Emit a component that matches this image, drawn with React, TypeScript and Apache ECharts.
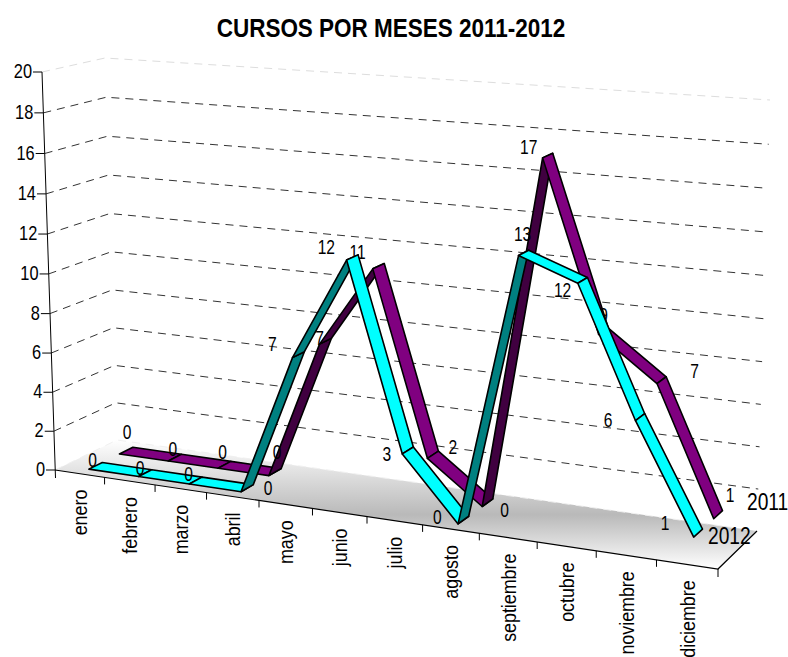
import React, { useEffect, useRef } from "react";
import * as echarts from "echarts";

const titleText = "CURSOS POR MESES 2011-2012";
const categories = ["enero","febrero","marzo","abril","mayo","junio","julio","agosto","septiembre","octubre","noviembre","diciembre"];
const values2011 = [0,0,0,0,7,11,2,0,17,9,7,1];
const values2012 = [0,0,0,0,7,12,3,0,13,12,6,1];
const yTicks = [0,2,4,6,8,10,12,14,16,18,20];

// label nudges from the projected point (pixels)
const labelShift2011 = [[1,-18],[-2,-8],[-2,-13],[2,-20],[-6,-3],[-21,-14],[20,-7],[17,8],[-19,-8],[0,-16],[33,-9],[12,-19]];
const labelShift2012 = [[-3,-5],[-5,-5],[-7,-6],[21,0],[-26,-10],[-26,-10],[-21,4],[-26,-3],[-1,-19],[-20,10],[-32,3],[-33,-10]];

const FONT = '"Liberation Sans", sans-serif';

// corners of the 3D box on the page: [front/back][left/right][floor/top]
const FL0=[55,470],FL1=[42,72],BL0=[117,440],BL1=[105,58];
const FR0=[718,569],FR1=[732,120],BR0=[757,531],BR1=[770,100];
const mix=(a:number[],b:number[],k:number)=>[a[0]+(b[0]-a[0])*k,a[1]+(b[1]-a[1])*k];
const warp=(t:number,r:number)=>t/(t+(1-t)*r);
function project(t:number,v:number,d:number){
  const w=warp(t,1.125),h=warp(v,1.03);
  const f0=mix(FL0,FR0,w),f1=mix(FL1,FR1,w),b0=mix(BL0,BR0,w),b1=mix(BL1,BR1,w);
  return mix(mix(f0,f1,h),mix(b0,b1,h),d);
}
function frac(params:any,api:any,i:number,val:number){
  const p=api.coord([i,val]);
  const c=params.coordSys;
  return [(p[0]-c.x)/c.width,(c.y+c.height-p[1])/c.height];
}
const textStyle=(text:string,size:number,align:string)=>({text,font:`${size}px ${FONT}`,fill:"#000",align,verticalAlign:"middle",textAlign:align,textVerticalAlign:"middle"});

function ribbon(values:number[],d0:number,d1:number,bright:string,dark:string){
  return {
    type:"custom",coordinateSystem:"cartesian2d",silent:true,
    data:values.slice(0,-1).map((v,i)=>[i,v,values[i+1]]),
    renderItem:(params:any,api:any)=>{
      const i=api.value(0),a=api.value(1),b=api.value(2);
      const [ta,va]=frac(params,api,i,a);
      const [tb,vb]=frac(params,api,i+1,b);
      return {type:"polygon",shape:{points:[project(ta,va,d0),project(tb,vb,d0),project(tb,vb,d1),project(ta,va,d1)]},
        style:{fill:b>a?dark:bright,stroke:"#000",lineWidth:1.6,lineJoin:"round"}};
    }
  };
}
function dataLabels(values:number[],d:number,shift:number[][]){
  return {
    type:"custom",coordinateSystem:"cartesian2d",silent:true,
    data:values.map((v,i)=>[i,v]),
    renderItem:(params:any,api:any)=>{
      const i=api.value(0),val=api.value(1);
      const [t,v]=frac(params,api,i,val);
      const p=project(t,v,d);
      return {type:"text",x:p[0]+shift[i][0],y:p[1]+shift[i][1],scaleX:0.78,
        style:textStyle(String(val),20,"center")};
    }
  };
}

function buildOption(){
  const series:any[]=[];
  // floor
  series.push({
    type:"custom",coordinateSystem:"cartesian2d",silent:true,data:[[0]],
    renderItem:()=>({type:"polygon",shape:{points:[FL0,FR0,BR0,BL0]},
      style:{fill:{type:"linear",x:0,y:0,x2:0,y2:1,colorStops:[{offset:0,color:"#ffffff"},{offset:0.58,color:"#b9b9b9"},{offset:1,color:"#ffffff"}]},stroke:"none"}})
  });
  // value gridlines, ticks and labels
  series.push({
    type:"custom",coordinateSystem:"cartesian2d",silent:true,
    data:yTicks.map(v=>[0,v]),
    renderItem:(params:any,api:any)=>{
      const val=api.value(1);
      const v=frac(params,api,0,val)[1];
      const a=project(0,v,0),b=project(0,v,1),c=project(1,v,1);
      const faint=val===0||val===20;
      return {type:"group",children:[
        {type:"polyline",shape:{points:[a,b,c]},style:{fill:"none",stroke:val===0?"#f0f0f0":faint?"#dddddd":"#333333",lineWidth:1,lineDash:[8,6]}},
        {type:"line",shape:{x1:a[0]-9,y1:a[1],x2:a[0],y2:a[1]},style:{stroke:"#000",lineWidth:1}},
        {type:"text",x:a[0]-10,y:a[1]-1,scaleX:0.82,style:textStyle(String(val),20,"right")}
      ]};
    }
  });
  // axis frame
  series.push({
    type:"custom",coordinateSystem:"cartesian2d",silent:true,data:[[0]],
    renderItem:()=>({type:"group",children:[
      {type:"polyline",shape:{points:[FL1,[FL0[0]+0.5,FL0[1]+8]]},style:{fill:"none",stroke:"#000",lineWidth:1}},
      {type:"polyline",shape:{points:[FL0,FR0,BR0]},style:{fill:"none",stroke:"#000",lineWidth:1.2}},
      {type:"line",shape:{x1:FR0[0],y1:FR0[1],x2:FR0[0],y2:FR0[1]+8},style:{stroke:"#000",lineWidth:1}}
    ]})
  });
  // category ticks and labels
  series.push({
    type:"custom",coordinateSystem:"cartesian2d",silent:true,
    data:categories.map((c,i)=>[i,0]),
    renderItem:(params:any,api:any)=>{
      const i=api.value(0);
      const step=params.coordSys.width/12;
      const t=frac(params,api,i,0)[0];
      const p=project(t,0,0);
      const tk=project((api.coord([i,0])[0]+step/2-params.coordSys.x)/params.coordSys.width,0,0);
      const kids:any[]=[
        {type:"text",x:p[0],y:p[1]+16,rotation:Math.PI/2,scaleX:0.85,style:textStyle(categories[i],21,"right")}
      ];
      if(i<11) kids.push({type:"line",shape:{x1:tk[0],y1:tk[1],x2:tk[0],y2:tk[1]+7},style:{stroke:"#000",lineWidth:1}});
      return {type:"group",children:kids};
    }
  });
  series.push(ribbon(values2011,0.65,0.87,"#800080","#400040"));
  series.push(dataLabels(values2011,0.76,labelShift2011));
  series.push(ribbon(values2012,0.15,0.37,"#00FFFF","#008080"));
  series.push(dataLabels(values2012,0.26,labelShift2012));
  return {
    animation:false,
    backgroundColor:"#ffffff",
    grid:{left:100,right:100,top:100,bottom:100},
    xAxis:{type:"category",data:categories,show:false,boundaryGap:true},
    yAxis:{type:"value",min:0,max:20,interval:2,show:false},
    graphic:[
      {type:"text",z:20,x:391,y:28,scaleX:0.9,style:{...textStyle(titleText,25,"center"),font:`bold 25px ${FONT}`}},
      {type:"text",z:20,x:747,y:502,scaleX:0.8,style:textStyle("2011",24,"left")},
      {type:"text",z:20,x:708,y:536,scaleX:0.8,style:textStyle("2012",24,"left")}
    ],
    series
  };
}

export default function App(){
  const ref=useRef<HTMLDivElement>(null);
  useEffect(()=>{
    const chart=echarts.init(ref.current!,null,{renderer:"svg"});
    chart.setOption(buildOption() as any);
    return ()=>chart.dispose();
  },[]);
  return <div ref={ref} style={{position:"absolute",left:0,top:0,width:788,height:657,overflow:"hidden"}}/>;
}
